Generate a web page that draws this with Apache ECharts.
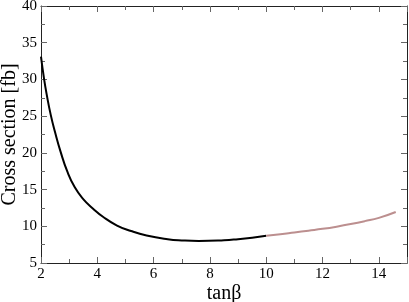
<!DOCTYPE html>
<html>
<head>
<meta charset="utf-8">
<script src="https://cdn.jsdelivr.net/npm/echarts@6/dist/echarts.min.js"></script>
<style>html,body{margin:0;padding:0;background:#fff;}#c{width:409px;height:302px;}</style>
</head>
<body>
<div id="c"></div>
<script>
var xBlack = [2.0, 2.1, 2.2, 2.35, 2.5, 2.7, 2.93, 3.2, 3.5, 3.85, 4.2, 4.7, 5.2, 5.75, 6.5, 7.0, 7.6, 8.5, 9.0, 9.5, 10.0];
var yBlack = [33.1, 30.3, 28.0, 25.1, 22.8, 20.1, 17.5, 15.3, 13.7, 12.4, 11.3, 10.1, 9.35, 8.75, 8.25, 8.08, 8.0, 8.1, 8.25, 8.45, 8.7];
var xPink = [10.0, 10.5, 11.0, 11.5, 12.0, 12.5, 13.0, 13.5, 14.0, 14.6];
var yPink = [8.7, 8.9, 9.15, 9.4, 9.65, 9.95, 10.3, 10.7, 11.15, 11.95];
var xTicks = [2, 4, 6, 8, 10, 12, 14];
var yTicks = [5, 10, 15, 20, 25, 30, 35, 40];

function pairs(xs, ys) { return xs.map(function (x, i) { return [x, ys[i]]; }); }

var font = 'Liberation Serif';
var frame = '#222';
function xAx(show, pos) {
  return {
    type: 'value', min: 2, max: 15, interval: 2, position: pos,
    name: show ? 'tanβ' : '', nameLocation: 'middle', nameGap: 21, nameMoveOverlap: false,
    nameTextStyle: { fontFamily: font, fontSize: 20, color: '#000' },
    axisLine: { show: true, onZero: false, lineStyle: { color: frame, width: 1 } },
    axisTick: { show: true, inside: true, length: 6, lineStyle: { color: '#666' } },
    minorTick: { show: true, splitNumber: 2, length: 4, lineStyle: { color: '#666' } },
    axisLabel: { show: show, fontFamily: font, fontSize: 15, color: '#000', margin: 4,
      formatter: function (v) { return xTicks.indexOf(v) >= 0 ? String(v) : ''; } },
    splitLine: { show: false }
  };
}
function yAx(show, pos) {
  return {
    type: 'value', min: 5, max: 40, interval: 5, position: pos,
    name: show ? 'Cross section [fb]' : '', nameLocation: 'middle', nameGap: 21, nameMoveOverlap: false,
    nameTextStyle: { fontFamily: font, fontSize: 20, color: '#000' },
    axisLine: { show: true, onZero: false, lineStyle: { color: frame, width: 1 } },
    axisTick: { show: true, inside: true, length: 6, lineStyle: { color: '#666' } },
    minorTick: { show: true, splitNumber: 2, length: 4, lineStyle: { color: '#666' } },
    axisLabel: { show: show, fontFamily: font, fontSize: 15, color: '#000', margin: 4,
      formatter: function (v) { return yTicks.indexOf(v) >= 0 ? String(v) : ''; } },
    splitLine: { show: false }
  };
}

var chart = echarts.init(document.getElementById('c'), null, { renderer: 'canvas' });
chart.setOption({
  animation: false,
  grid: { left: 41, right: 2, top: 6, bottom: 39, containLabel: false, outerBoundsMode: 'none' },
  xAxis: [xAx(true, 'bottom'), xAx(false, 'top')],
  yAxis: [yAx(true, 'left'), yAx(false, 'right')],
  series: [
    { type: 'line', xAxisIndex: 0, yAxisIndex: 0, data: pairs(xBlack, yBlack), smooth: 0.5,
      showSymbol: false, lineStyle: { color: '#000', width: 2 } },
    { type: 'line', xAxisIndex: 0, yAxisIndex: 0, data: pairs(xPink, yPink), smooth: 0.5,
      showSymbol: false, lineStyle: { color: '#bc8f8f', width: 2 } }
  ]
});
</script>
</body>
</html>
